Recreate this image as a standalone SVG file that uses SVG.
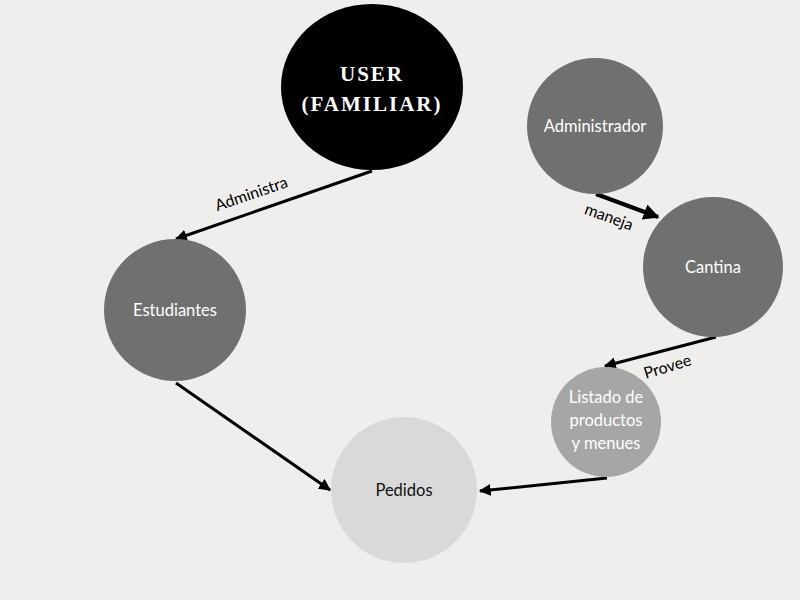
<svg xmlns="http://www.w3.org/2000/svg" width="800" height="600" viewBox="0 0 800 600">
<style>
.lbl{font-family:Lato,"Open Sans","Liberation Sans",sans-serif;font-size:16.5px;fill:#ffffff;text-anchor:middle}
.dark{fill:#111111}
.edge{stroke:#000000;stroke-width:3;fill:none;marker-end:url(#ah)}
.elbl{font-family:Lato,"Open Sans","Liberation Sans",sans-serif;font-size:16px;fill:#000000;text-anchor:middle}
.title{font-family:"Liberation Serif","DejaVu Serif",serif;font-size:21px;font-weight:bold;fill:#ffffff;text-anchor:middle;letter-spacing:2px}
</style>
<defs>
<marker id="ah" viewBox="0 0 10 10" refX="9" refY="5" markerWidth="4" markerHeight="4" orient="auto" markerUnits="strokeWidth">
<path d="M0,0 L10,5 L0,10 z" fill="#000000"/>
</marker>
</defs>
<rect width="800" height="600" fill="#efeeec"/>
<g id="connectors">
<line class="edge" x1="372" y1="171" x2="176" y2="239"/>
<line class="edge" x1="596" y1="194" x2="658" y2="217" style="stroke-width:4"/>
<line class="edge" x1="716" y1="337" x2="605" y2="366"/>
<line class="edge" x1="607" y1="478" x2="480" y2="491"/>
<line class="edge" x1="176" y1="383" x2="330" y2="490"/>
<text class="elbl" transform="translate(253,199) rotate(-19)">Administra</text>
<text class="elbl" transform="translate(607,222) rotate(20)">maneja</text>
<text class="elbl" transform="translate(669,372) rotate(-17)">Provee</text>
</g>
<g id="user">
<ellipse cx="372" cy="87" rx="91" ry="83" fill="#000000"/>
<text class="title" x="372" y="81">USER</text>
<text class="title" x="372" y="111">(FAMILIAR)</text>
</g>
<g id="administrador">
<circle cx="595" cy="126" r="68" fill="#707070"/>
<text class="lbl" x="595" y="132">Administrador</text>
</g>
<g id="cantina">
<circle cx="713" cy="267" r="70" fill="#707070"/>
<text class="lbl" x="713" y="273">Cantina</text>
</g>
<g id="estudiantes">
<circle cx="175" cy="310" r="71" fill="#707070"/>
<text class="lbl" x="175" y="316">Estudiantes</text>
</g>
<g id="listado">
<circle cx="606" cy="422" r="55" fill="#a6a6a6"/>
<text class="lbl" x="606" y="403">Listado de</text>
<text class="lbl" x="606" y="426">productos</text>
<text class="lbl" x="606" y="449">y menues</text>
</g>
<g id="pedidos">
<circle cx="404" cy="490" r="73" fill="#d9d9d9"/>
<text class="lbl dark" x="404" y="496">Pedidos</text>
</g>
</svg>
